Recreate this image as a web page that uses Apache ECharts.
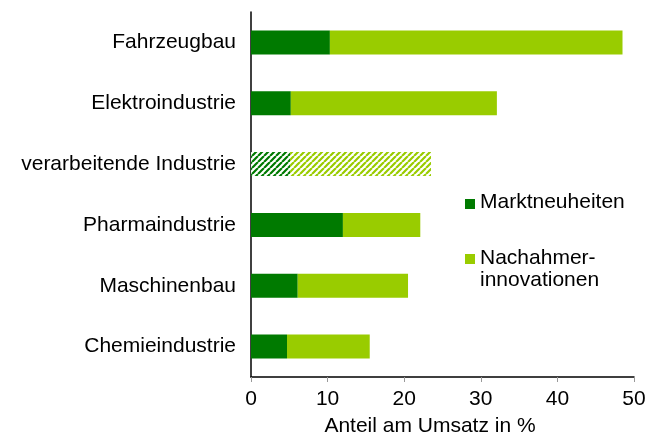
<!DOCTYPE html>
<html>
<head>
<meta charset="utf-8">
<script src="https://cdn.jsdelivr.net/npm/echarts@6/dist/echarts.min.js"></script>
<style>
  html, body { margin: 0; padding: 0; background: #fff; }
  #chart { width: 662px; height: 436px; }
</style>
</head>
<body>
<div id="chart"></div>
<script>
// Branchen, von oben nach unten
const categories = ['Fahrzeugbau', 'Elektroindustrie', 'verarbeitende Industrie', 'Pharmaindustrie', 'Maschinenbau', 'Chemieindustrie'];
// Anteil am Umsatz in %
const marktneuheiten = [10.3, 5.2, 5.1, 12.0, 6.1, 4.7];
const nachahmer = [38.2, 26.9, 18.4, 10.1, 14.4, 10.8];
// Tick-Beschriftungen der Werteachse
const xTicks = [0, 10, 20, 30, 40, 50];
// Durchschnittswert wird schraffiert dargestellt
const hatchedCategory = 'verarbeitende Industrie';

const DARK = '#007a00';
const LIGHT = '#99cc00';
const FONT = '"Liberation Sans", Arial, sans-serif';
const FS = 21;

function stripes(color) {
  const c = document.createElement('canvas');
  c.width = 6; c.height = 6;
  const g = c.getContext('2d');
  g.fillStyle = '#ffffff';
  g.fillRect(0, 0, 6, 6);
  g.strokeStyle = color;
  g.lineWidth = 2.2;
  g.beginPath();
  for (let k = -1; k <= 1; k++) {
    g.moveTo(k * 6, 6);
    g.lineTo(k * 6 + 6, 0);
  }
  g.stroke();
  return { image: c, repeat: 'repeat' };
}

function build(values, color) {
  return values.map((v, i) => categories[i] === hatchedCategory
    ? { value: v, itemStyle: { color: stripes(color) } }
    : v);
}

const chart = echarts.init(document.getElementById('chart'), null, { renderer: 'canvas' });
chart.setOption({
  animation: false,
  grid: { left: 251, right: 28, top: 12, bottom: 59 },
  xAxis: {
    type: 'value',
    min: xTicks[0],
    max: xTicks[xTicks.length - 1],
    interval: xTicks[1] - xTicks[0],
    axisLine: { show: true, lineStyle: { color: '#000', width: 1.5 } },
    axisTick: { show: true, length: 5, lineStyle: { color: '#999' } },
    axisLabel: { color: '#000', fontSize: FS, fontFamily: FONT, margin: 12 },
    splitLine: { show: false }
  },
  yAxis: {
    type: 'category',
    data: categories,
    inverse: true,
    axisLine: { show: true, lineStyle: { color: '#000', width: 1.5 } },
    axisTick: { show: false },
    axisLabel: { color: '#000', fontSize: FS, fontFamily: FONT, margin: 15 }
  },
  series: [
    {
      name: 'Marktneuheiten',
      type: 'bar',
      stack: 'umsatz',
      barWidth: 24,
      itemStyle: { color: DARK },
      data: build(marktneuheiten, DARK)
    },
    {
      name: 'Nachahmerinnovationen',
      type: 'bar',
      stack: 'umsatz',
      barWidth: 24,
      itemStyle: { color: LIGHT },
      data: build(nachahmer, LIGHT)
    }
  ],
  graphic: [
    { type: 'rect', left: 465, top: 199, shape: { width: 10, height: 10 }, style: { fill: DARK } },
    { type: 'text', left: 480, top: 192, style: { text: 'Marktneuheiten', font: FS + 'px ' + FONT, fill: '#000' } },
    { type: 'rect', left: 465, top: 254, shape: { width: 10, height: 10 }, style: { fill: LIGHT } },
    { type: 'text', left: 480, top: 247, style: { text: 'Nachahmer-\ninnovationen', font: FS + 'px ' + FONT, fill: '#000', lineHeight: 22 } },
    { type: 'text', x: 430, y: 426, style: { text: 'Anteil am Umsatz in %', font: FS + 'px ' + FONT, fill: '#000', textAlign: 'center', textVerticalAlign: 'middle' } }
  ]
});
</script>
</body>
</html>
